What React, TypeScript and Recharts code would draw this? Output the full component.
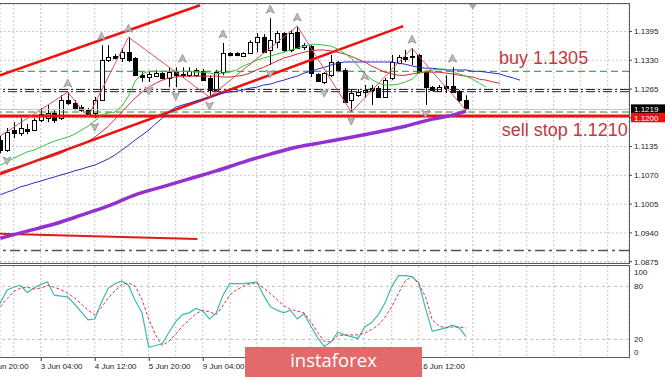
import React from "react";
import {
  ComposedChart,
  Bar,
  Line,
  Scatter,
  XAxis,
  YAxis,
  CartesianGrid,
  ReferenceLine,
  ReferenceDot,
} from "recharts";

// bar index of the first candle (bars are spaced 4 hours apart)
const FIRST = -1;

const OPEN = [
  1.115, 1.1127, 1.1172, 1.1165, 1.1175, 1.1172, 1.1195, 1.1199, 1.1211, 1.1199,
  1.124, 1.1233, 1.1224, 1.1217, 1.1211, 1.124, 1.133, 1.1339, 1.1335, 1.1348,
  1.1335, 1.1296, 1.1292, 1.1294, 1.1301, 1.129, 1.1303, 1.1299, 1.1296, 1.1296,
  1.1305, 1.129, 1.1263, 1.1303, 1.1346, 1.1346, 1.1339, 1.1346, 1.1371, 1.1382,
  1.1353, 1.1371, 1.1391, 1.1353, 1.1393, 1.136, 1.1362, 1.1299, 1.1281, 1.1296,
  1.1326, 1.1308, 1.124, 1.1251, 1.1258, 1.1263, 1.1267, 1.1247, 1.129, 1.1323,
  1.1337, 1.1339, 1.1342, 1.1303, 1.1269, 1.126, 1.1272, 1.1272, 1.126, 1.124,
];
const HIGH = [
  1.1159, 1.1177, 1.119, 1.1199, 1.1186, 1.1199, 1.1222, 1.1229, 1.1217, 1.1251,
  1.1258, 1.124, 1.1229, 1.1222, 1.1247, 1.1364, 1.1364, 1.1344, 1.1357, 1.1382,
  1.1337, 1.1303, 1.1305, 1.1308, 1.1303, 1.1314, 1.1314, 1.1314, 1.1314, 1.1312,
  1.131, 1.1296, 1.1308, 1.1369, 1.1348, 1.1348, 1.1348, 1.1375, 1.1391, 1.1389,
  1.1425, 1.1396, 1.1393, 1.1398, 1.1407, 1.1369, 1.1364, 1.1301, 1.1303, 1.1342,
  1.1328, 1.1312, 1.1263, 1.1265, 1.1274, 1.1274, 1.1272, 1.129, 1.1342, 1.1342,
  1.1353, 1.1357, 1.1344, 1.1305, 1.1272, 1.1274, 1.1296, 1.1314, 1.1263, 1.1251,
];
const LOW = [
  1.112, 1.1123, 1.1154, 1.1159, 1.1163, 1.117, 1.119, 1.119, 1.1188, 1.1195,
  1.1229, 1.1217, 1.1213, 1.1202, 1.1199, 1.1238, 1.1326, 1.1332, 1.1326, 1.1326,
  1.1294, 1.1281, 1.1281, 1.1292, 1.1287, 1.1269, 1.1269, 1.129, 1.1292, 1.1292,
  1.1283, 1.1247, 1.1258, 1.1296, 1.1339, 1.1339, 1.1337, 1.1344, 1.1348, 1.1346,
  1.1319, 1.1357, 1.1348, 1.1348, 1.1355, 1.1353, 1.1292, 1.1281, 1.1276, 1.1292,
  1.1303, 1.1233, 1.1213, 1.1247, 1.1245, 1.1229, 1.1245, 1.1245, 1.1285, 1.1321,
  1.1326, 1.1319, 1.1301, 1.1229, 1.126, 1.1258, 1.1256, 1.1256, 1.1235, 1.1217,
];
const CLOSE = [
  1.1127, 1.1168, 1.1165, 1.1177, 1.117, 1.1195, 1.1208, 1.1211, 1.1195, 1.124,
  1.1233, 1.1222, 1.1217, 1.1206, 1.124, 1.133, 1.1337, 1.1335, 1.1348, 1.133,
  1.1296, 1.1292, 1.1299, 1.1301, 1.129, 1.1303, 1.1296, 1.1296, 1.1305, 1.1308,
  1.1285, 1.1263, 1.1303, 1.1346, 1.1342, 1.1342, 1.1346, 1.1371, 1.1382, 1.1348,
  1.1375, 1.1391, 1.1353, 1.1391, 1.1357, 1.1364, 1.1301, 1.1283, 1.1301, 1.1326,
  1.1308, 1.1235, 1.1256, 1.1258, 1.1263, 1.1267, 1.1247, 1.1285, 1.1326, 1.1337,
  1.1332, 1.1337, 1.1303, 1.1269, 1.1263, 1.1269, 1.1267, 1.1258, 1.124, 1.1219,
];

// Alligator lines (shifted forward past the last candle)
const LIPS = [
  1.1093, 1.11, 1.1109, 1.1116, 1.1123, 1.1127, 1.1134, 1.1141, 1.1147, 1.1152,
  1.1156, 1.1163, 1.1172, 1.1181, 1.1193, 1.1206, 1.1211, 1.1213, 1.1226, 1.1249,
  1.1283, 1.1299, 1.1305, 1.1305, 1.1305, 1.1305, 1.1305, 1.1305, 1.1305, 1.1303,
  1.1303, 1.1301, 1.1299, 1.1301, 1.1303, 1.1308, 1.1317, 1.1323, 1.133, 1.1335,
  1.1339, 1.1344, 1.1348, 1.1353, 1.1357, 1.1362, 1.1366, 1.1366, 1.1364, 1.1362,
  1.1355, 1.1346, 1.1335, 1.1317, 1.1299, 1.1287, 1.1278, 1.1274, 1.1274, 1.1276,
  1.1281, 1.1287, 1.1301, 1.1305, 1.1308, 1.131, 1.131, 1.1303, 1.1299, 1.1294,
  1.1287, 1.1278, 1.1269,
];
const TEETH = [
  1.1077, 1.1082, 1.1087, 1.1091, 1.1096, 1.11, 1.1105, 1.1109, 1.1114, 1.112,
  1.1127, 1.1134, 1.1141, 1.1147, 1.1156, 1.1168, 1.1181, 1.1197, 1.1213, 1.1229,
  1.1245, 1.1258, 1.1269, 1.1278, 1.1285, 1.129, 1.1292, 1.1294, 1.1294, 1.1294,
  1.1294, 1.1294, 1.1294, 1.1292, 1.1292, 1.1294, 1.1296, 1.1301, 1.1308, 1.1314,
  1.1321, 1.1328, 1.1335, 1.1339, 1.1344, 1.1348, 1.1351, 1.1353, 1.1353, 1.1351,
  1.1348, 1.1344, 1.1339, 1.1332, 1.1326, 1.1317, 1.131, 1.1303, 1.1299, 1.1296,
  1.1296, 1.1299, 1.1301, 1.1303, 1.1303, 1.1303, 1.1301, 1.1299, 1.1296, 1.1294,
  1.1292, 1.1287, 1.1285, 1.1281, 1.1278,
];
const JAW = [
  1.1026, 1.1032, 1.1037, 1.1044, 1.1048, 1.1053, 1.1057, 1.1062, 1.1066, 1.1071,
  1.1075, 1.108, 1.1084, 1.1089, 1.1093, 1.11, 1.1107, 1.1116, 1.1127, 1.1138,
  1.115, 1.1161, 1.1172, 1.1186, 1.1199, 1.1213, 1.1224, 1.1229, 1.1233, 1.1238,
  1.1242, 1.1247, 1.1251, 1.1256, 1.1258, 1.126, 1.1263, 1.1267, 1.1269, 1.1274,
  1.1276, 1.1281, 1.1285, 1.129, 1.1294, 1.1301, 1.1305, 1.131, 1.1314, 1.1319,
  1.1323, 1.1326, 1.1326, 1.1326, 1.1326, 1.1326, 1.1326, 1.1326, 1.1326, 1.1323,
  1.1321, 1.1317, 1.1314, 1.1312, 1.1312, 1.131, 1.1308, 1.1308, 1.1308, 1.1308,
  1.1305, 1.1305, 1.1303, 1.1301, 1.1299, 1.1294, 1.129, 1.1285,
];

// slow moving average (purple), read every few bars
const MA_BARS = [-1, 3, 7, 11, 15, 19, 23, 27, 31, 35, 39, 43, 47, 51, 55, 59, 63, 66, 68];
const MA_VALUES = [
  1.0928, 1.0944, 1.096, 1.098, 1.1001, 1.1026, 1.1044, 1.1062, 1.108, 1.11,
  1.1118, 1.1134, 1.1145, 1.1156, 1.1168, 1.1181, 1.1197, 1.1206, 1.1215,
];

const ZZ_BARS = [-1, 9, 12, 18, 30, 43, 51, 60, 68];
const ZZ_PRICES = [1.1159, 1.1258, 1.1202, 1.1382, 1.1247, 1.1407, 1.1213, 1.1357, 1.1217];

const FRACTAL_UP = [9, 14, 18, 26, 32, 39, 43, 53, 60, 66];
const FRACTAL_DOWN = [0, 13, 21, 25, 30, 39, 47, 51, 62];

const STOCH_K = [
  61, 76, 79, 81, 73, 78, 82, 85, 70, 69, 68, 60, 51, 42, 43, 62, 78, 83, 86, 81,
  64, 50, 11, 13, 15, 28, 40, 48, 50, 55, 52, 43, 50, 70, 83, 83, 83, 84, 85, 70,
  57, 53, 50, 53, 43, 49, 35, 22, 12, 17, 28, 25, 23, 21, 34, 39, 48, 61, 80, 92,
  92, 91, 84, 55, 29, 31, 33, 36, 33, 23,
];
const STOCH_D = [
  57, 66, 74, 78, 79, 77, 78, 81, 79, 76, 72, 67, 60, 53, 48, 56, 67, 75, 82, 84,
  80, 65, 43, 25, 13, 18, 26, 35, 42, 49, 53, 51, 48, 58, 70, 76, 80, 83, 84, 78,
  72, 65, 58, 54, 52, 50, 40, 28, 18, 17, 24, 25, 25, 25, 27, 31, 36, 45, 57, 72,
  86, 91, 83, 68, 42, 35, 33, 34, 34, 33,
];

const PRICE_TICKS = [1.0875, 1.094, 1.1005, 1.107, 1.1135, 1.12, 1.1265, 1.133, 1.1395];
const STOCH_TICKS = [0, 20, 80, 100];
const GRID_BARS = [
  -3, 1, 5, 9, 13, 17, 21, 25, 29, 33, 37, 41, 45, 49, 53, 57, 61, 65, 69, 73, 77,
  81, 85, 89,
];
const LABEL_BARS = [-3, 5, 13, 21, 29, 37, 45, 53, 61];
const LABEL_TEXT = [
  "1 Jun 20:00",
  "3 Jun 04:00",
  "4 Jun 12:00",
  "5 Jun 20:00",
  "9 Jun 04:00",
  "10 Jun 12:00",
  "11 Jun 20:00",
  "15 Jun 04:00",
  "16 Jun 12:00",
];

const X_DOMAIN = [-1.037, 92.15];
const PRICE_DOMAIN = [1.0872, 1.1457];
const BID = 1.1219;
const STOP_LINE = 1.1204;
const STOP_LABEL = 1.12;

const AXIS_FONT = "'Liberation Sans', Arial, sans-serif";
const AXIS_TICK = { fontSize: 8, fill: "#222", fontFamily: AXIS_FONT };
const NOTE_RED = "#bf3a40";

const mainRows: any[] = [];
for (let k = 0; k < JAW.length; k++) {
  const i = FIRST + k;
  const row: any = { i, lips: LIPS[k], teeth: TEETH[k], jaw: JAW[k] };
  if (k < OPEN.length) {
    row.o = OPEN[k];
    row.h = HIGH[k];
    row.l = LOW[k];
    row.c = CLOSE[k];
    row.range = [LOW[k], HIGH[k]];
  }
  const m = MA_BARS.indexOf(i);
  if (m >= 0) row.ma = MA_VALUES[m];
  const z = ZZ_BARS.indexOf(i);
  if (z >= 0) row.zz = ZZ_PRICES[z];
  mainRows.push(row);
}

const stochRows = STOCH_K.map((k, n) => ({ i: FIRST + n, k, d: STOCH_D[n] }));

const upFractals = FRACTAL_UP.map((i) => ({ i, p: HIGH[i - FIRST] }));
const downFractals = FRACTAL_DOWN.map((i) => ({ i, p: LOW[i - FIRST] }));

function Candle(props: any) {
  const { x, y, width, height, payload } = props;
  if (!payload || payload.o === undefined || !isFinite(y)) return null;
  const { o, h, l, c } = payload;
  const at = (v: number) => y + ((h - v) / (h - l)) * height;
  const cx = Math.round(x + width / 2) + 0.5;
  const top = Math.round(at(Math.max(o, c))) + 0.5;
  const bottom = Math.round(at(Math.min(o, c))) + 0.5;
  return (
    <g>
      <line x1={cx} x2={cx} y1={y} y2={y + height} stroke="#000" strokeWidth={1} />
      <rect
        x={cx - 2}
        y={top}
        width={4}
        height={Math.max(bottom - top, 1)}
        fill={c >= o ? "#fff" : "#000"}
        stroke="#000"
        strokeWidth={1}
      />
    </g>
  );
}

function UpArrow(props: any) {
  const { cx, cy } = props;
  const y = cy - 9;
  return (
    <polygon
      points={`${cx},${y - 4} ${cx + 4},${y + 4} ${cx},${y + 2} ${cx - 4},${y + 4}`}
      fill="#bdbdbd"
      stroke="#8a8a8a"
      strokeWidth={0.8}
    />
  );
}

function DownArrow(props: any) {
  const { cx, cy } = props;
  const y = cy + 9;
  return (
    <polygon
      points={`${cx},${y + 4} ${cx + 4},${y - 4} ${cx},${y - 2} ${cx - 4},${y - 4}`}
      fill="#bdbdbd"
      stroke="#8a8a8a"
      strokeWidth={0.8}
    />
  );
}

function priceBox(text: string, bg: string) {
  return (props: any) => {
    const vb = props.viewBox || {};
    const x = vb.x + vb.width + 2;
    return (
      <g>
        <rect x={x} y={vb.y - 5} width={40} height={9.5} fill={bg} />
        <text x={x + 3} y={vb.y + 3} fontSize={8} fill="#fff" fontFamily={AXIS_FONT}>
          {text}
        </text>
      </g>
    );
  };
}

function DateTick(props: any) {
  const { x, y, payload } = props;
  const n = LABEL_BARS.indexOf(payload.value);
  if (n < 0) return null;
  return (
    <g>
      <line x1={x + 0.5} x2={x + 0.5} y1={y} y2={y + 4} stroke="#333" />
      <text x={x} y={y + 12} {...AXIS_TICK}>
        {LABEL_TEXT[n]}
      </text>
    </g>
  );
}

function StochTick(props: any) {
  const { x, y, payload } = props;
  const dy = payload.value === 100 ? 3 : payload.value === 0 ? -5 : 0;
  return (
    <text x={x} y={y + dy + 3} {...AXIS_TICK}>
      {payload.value}
    </text>
  );
}

export default function App() {
  return (
    <div
      style={{
        position: "relative",
        width: 665,
        height: 377,
        background: "#fff",
        overflow: "hidden",
        fontFamily: AXIS_FONT,
      }}
    >
      <style>{"body{margin:0} .recharts-surface{overflow:visible}"}</style>
      <div style={{ position: "absolute", left: 0, top: 0 }}>
        <ComposedChart
          width={665}
          height={263}
          data={mainRows}
          margin={{ top: 4, right: 0, bottom: 0, left: 0 }}
        >
          <CartesianGrid stroke="#c6c6c6" strokeDasharray="2 2" />
          <XAxis
            dataKey="i"
            type="number"
            domain={X_DOMAIN}
            allowDataOverflow
            ticks={GRID_BARS}
            interval={0}
            hide
          />
          <YAxis
            orientation="right"
            type="number"
            domain={PRICE_DOMAIN}
            allowDataOverflow
            ticks={PRICE_TICKS}
            interval={0}
            width={36}
            axisLine={false}
            tickSize={3}
            tickMargin={2}
            tickLine={{ stroke: "#444" }}
            tick={AXIS_TICK}
            tickFormatter={(v: number) => (v === STOP_LABEL ? "" : v.toFixed(4))}
          />

          <ReferenceLine y={1.1305} stroke="#2a8a2a" strokeDasharray="7 4" />
          <ReferenceLine y={1.1264} stroke="#222" strokeDasharray="9 3 2 3" />
          <ReferenceLine y={1.1259} stroke="#222" strokeDasharray="9 3 2 3" />
          <ReferenceLine y={1.1213} stroke="#2a8a2a" strokeDasharray="7 4" />
          <ReferenceLine y={1.09} stroke="#555" strokeWidth={1.5} strokeDasharray="10 4 3 4" />
          <ReferenceLine y={BID} stroke="#c4c4c4" label={priceBox("1.1219", "#000")} />
          <ReferenceLine y={STOP_LINE} stroke="#f01010" strokeWidth={3} />
          <ReferenceLine y={STOP_LABEL} stroke="none" label={priceBox("1.1200", "#f01010")} />

          <ReferenceLine
            segment={[
              { x: -1.037, y: 1.1296 },
              { x: 28.6, y: 1.1454 },
            ]}
            stroke="#f01010"
            strokeWidth={2.6}
            ifOverflow="hidden"
          />
          <ReferenceLine
            segment={[
              { x: -1.037, y: 1.1073 },
              { x: 58.7, y: 1.1407 },
            ]}
            stroke="#f01010"
            strokeWidth={2.6}
            ifOverflow="hidden"
          />
          <ReferenceLine
            segment={[
              { x: -1.037, y: 1.0938 },
              { x: 28.2, y: 1.0926 },
            ]}
            stroke="#e01818"
            strokeWidth={2}
            ifOverflow="hidden"
          />

          <Bar dataKey="range" barSize={5} shape={Candle} isAnimationActive={false} />

          <Line dataKey="jaw" stroke="#2b2bc8" strokeWidth={1} dot={false} activeDot={false} isAnimationActive={false} />
          <Line dataKey="teeth" stroke="#cc3030" strokeWidth={1} dot={false} activeDot={false} isAnimationActive={false} />
          <Line dataKey="lips" stroke="#33c633" strokeWidth={1} dot={false} activeDot={false} isAnimationActive={false} />
          <Line
            dataKey="ma"
            type="monotone"
            stroke="#9430d0"
            strokeWidth={3.5}
            dot={false}
            activeDot={false}
            connectNulls
            isAnimationActive={false}
          />
          <Line
            dataKey="zz"
            stroke="#dd5555"
            strokeWidth={1}
            dot={false}
            activeDot={false}
            connectNulls
            isAnimationActive={false}
          />
          <Scatter data={upFractals} dataKey="p" shape={UpArrow} isAnimationActive={false} />
          <Scatter data={downFractals} dataKey="p" shape={DownArrow} isAnimationActive={false} />

          <ReferenceDot
            x={69}
            y={PRICE_DOMAIN[1]}
            shape={(p: any) => (
              <polygon
                points={`${p.cx - 4},${p.cy} ${p.cx + 4},${p.cy} ${p.cx},${p.cy + 6}`}
                fill="#a8a8a8"
              />
            )}
          />
          <ReferenceDot
            x={72.9}
            y={1.1321}
            shape={(p: any) => (
              <text x={p.cx} y={p.cy} fontSize={18} fill={NOTE_RED} fontFamily={AXIS_FONT}>
                buy 1.1305
              </text>
            )}
          />
          <ReferenceDot
            x={73.3}
            y={1.1159}
            shape={(p: any) => (
              <text x={p.cx} y={p.cy} fontSize={18} fill={NOTE_RED} fontFamily={AXIS_FONT}>
                sell stop 1.1210
              </text>
            )}
          />
        </ComposedChart>
      </div>

      <div style={{ position: "absolute", left: 0, top: 262 }}>
        <ComposedChart
          width={665}
          height={115}
          data={stochRows}
          margin={{ top: 4, right: 0, bottom: 0, left: 0 }}
        >
          <CartesianGrid stroke="#c6c6c6" strokeDasharray="2 2" horizontal={false} />
          <XAxis
            dataKey="i"
            type="number"
            domain={X_DOMAIN}
            allowDataOverflow
            ticks={GRID_BARS}
            interval={0}
            height={20}
            axisLine={false}
            tickLine={false}
            tickSize={0}
            tickMargin={0}
            tick={DateTick}
          />
          <YAxis
            orientation="right"
            type="number"
            domain={[0, 103]}
            allowDataOverflow
            ticks={STOCH_TICKS}
            interval={0}
            width={36}
            axisLine={false}
            tickSize={0}
            tickMargin={5}
            tick={StochTick}
          />
          <ReferenceLine y={80} stroke="#bcbcbc" strokeDasharray="3 3" />
          <ReferenceLine y={20} stroke="#bcbcbc" strokeDasharray="3 3" />
          <Line dataKey="k" stroke="#3dbab0" strokeWidth={1.2} dot={false} activeDot={false} isAnimationActive={false} />
          <Line
            dataKey="d"
            stroke="#d8344f"
            strokeWidth={1}
            strokeDasharray="3 2"
            dot={false}
            activeDot={false}
            isAnimationActive={false}
          />
        </ComposedChart>
      </div>

      <div
        style={{
          position: "absolute",
          left: -1,
          top: 3,
          width: 631,
          height: 261,
          border: "1px solid #5a5a5a",
          boxSizing: "border-box",
          pointerEvents: "none",
        }}
      />
      <div
        style={{
          position: "absolute",
          left: -1,
          top: 265,
          width: 631,
          height: 93,
          border: "1px solid #5a5a5a",
          boxSizing: "border-box",
          pointerEvents: "none",
        }}
      />
      <div
        style={{
          position: "absolute",
          left: 245,
          top: 347,
          width: 177,
          height: 30,
          background: "#e36a6a",
          color: "#fff",
          fontFamily: "'Open Sans', sans-serif",
          fontSize: 18.5,
          lineHeight: "26px",
          textAlign: "center",
        }}
      >
        instaforex
      </div>
    </div>
  );
}
